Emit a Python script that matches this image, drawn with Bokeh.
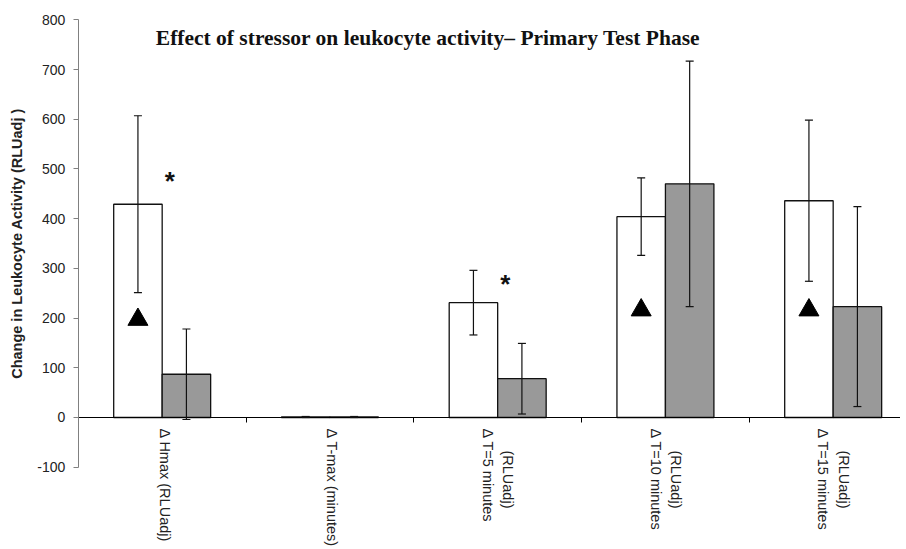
from bokeh.plotting import figure
from bokeh.models import Range1d, LinearAxis, FixedTicker, Whisker, TeeHead, ColumnDataSource, Grid
from bokeh.core.properties import value
from bokeh.embed import file_html
from bokeh.resources import INLINE

# ---------------- data ----------------
title_text = "Effect of stressor on leukocyte activity\u2013 Primary Test Phase"
y_label = "Change in Leukocyte Activity (RLUadj )"
categories = ["\u0394 Hmax (RLUadj)", "\u0394 T-max (minutes)", "\u0394 T=5 minutes\n(RLUadj)",
              "\u0394 T=10 minutes\n(RLUadj)", "\u0394 T=15 minutes\n(RLUadj)"]
white_vals = [429, 1, 231, 404, 436]
white_err = [178, 1, 65, 78, 162]
gray_vals = [87, 1, 78, 470, 223]
gray_err = [91, 1, 71, 247, 201]
triangle_groups = [0, 3, 4]
triangle_y = [197, 216, 216]
star_groups = [0, 2]
star_y = [482, 275]
y_ticks = [-100, 0, 100, 200, 300, 400, 500, 600, 700, 800]
y_tick_labels = ["-100", "0", "100", "200", "300", "400", "500", "600", "700", "800"]

# ---------------- layout constants ----------------
BW = 0.289
FONT = "Liberation Sans"
n = len(categories)
centers = [i + 0.5 for i in range(n)]
W, H = 900, 547
PX_PER_UNIT_Y = 0.4971
PX_PER_UNIT_X = 167.75
X0_PX = 77.8
y_top = y_ticks[-1] + 19.3 / PX_PER_UNIT_Y
y_bot = y_ticks[0] - (H - 466.7) / PX_PER_UNIT_Y
x_start = -X0_PX / PX_PER_UNIT_X
x_end = (W - X0_PX) / PX_PER_UNIT_X

p = figure(width=W, height=H, output_backend="svg", toolbar_location=None,
           x_range=Range1d(x_start, x_end), y_range=Range1d(y_bot, y_top),
           x_axis_location=None, y_axis_location=None, min_border=0)
p.outline_line_color = None
p.background_fill_color = "white"
for g in p.select(type=Grid):
    g.visible = False

# y axis fixed at x=0
ya = LinearAxis(fixed_location=0, bounds=(y_ticks[0], y_ticks[-1]),
                ticker=FixedTicker(ticks=y_ticks),
                major_label_overrides=dict(zip(y_ticks, y_tick_labels)),
                axis_line_color="#808080", major_tick_line_color="#808080",
                major_tick_out=5, major_tick_in=0, minor_tick_line_color=None,
                major_label_text_font=FONT, major_label_text_font_size="14px",
                major_label_text_color="#222222", major_label_standoff=8,
                axis_label=y_label, axis_label_text_font=FONT,
                axis_label_text_font_style="bold", axis_label_text_font_size="14.5px",
                axis_label_text_color="#222222", axis_label_standoff=9)
p.add_layout(ya, "left")

# x axis at y=0 : boundary ticks
boundaries = [float(i) for i in range(1, n)]
tick_axis = LinearAxis(fixed_location=0, bounds=(0, x_end), ticker=FixedTicker(ticks=boundaries),
                       major_tick_out=5, major_tick_in=0, major_tick_line_color="black",
                       minor_tick_line_color=None, axis_line_color="black",
                       major_label_overrides={b: "" for b in boundaries})
p.add_layout(tick_axis, "below")

# category labels (line 1 and line 2 as separate axes so lines are centred)
first_pos, first_txt, second_pos, second_txt = [], [], [], []
for c, lab in zip(centers, categories):
    parts = lab.split("\n")
    if len(parts) == 1:
        first_pos.append(c + 0.015)
        first_txt.append(parts[0])
    else:
        first_pos.append(c - 0.058)
        first_txt.append(parts[0])
        second_pos.append(c + 0.062)
        second_txt.append(parts[1])

def label_axis(pos, txt, standoff):
    ax = LinearAxis(fixed_location=0, ticker=FixedTicker(ticks=pos),
                    major_label_overrides=dict(zip(pos, txt)),
                    major_tick_out=0, major_tick_in=0, major_tick_line_color=None,
                    minor_tick_line_color=None, axis_line_color=None,
                    major_label_orientation="vertical", major_label_standoff=standoff,
                    major_label_text_font=FONT, major_label_text_font_size="14.5px",
                    major_label_text_color="#222222")
    p.add_layout(ax, "below")

label_axis(first_pos, first_txt, 11)
label_axis(second_pos, second_txt, 33)

# bars
src_w = ColumnDataSource(dict(x=[c - BW / 2 for c in centers], top=white_vals,
                              upper=[v + e for v, e in zip(white_vals, white_err)],
                              lower=[v - e for v, e in zip(white_vals, white_err)]))
src_g = ColumnDataSource(dict(x=[c + BW / 2 for c in centers], top=gray_vals,
                              upper=[v + e for v, e in zip(gray_vals, gray_err)],
                              lower=[v - e for v, e in zip(gray_vals, gray_err)]))
p.vbar(x="x", top="top", bottom=0, width=BW, source=src_w, fill_color="white",
       line_color="#111111", line_width=1.3)
p.vbar(x="x", top="top", bottom=0, width=BW, source=src_g, fill_color="#999999",
       line_color="#111111", line_width=1.3)

for src in (src_w, src_g):
    w = Whisker(source=src, base="x", upper="upper", lower="lower", dimension="height",
                line_color="#111111", line_width=1.2, level="annotation",
                upper_head=TeeHead(size=8, line_color="#111111", line_width=1.2),
                lower_head=TeeHead(size=8, line_color="#111111", line_width=1.2))
    p.add_layout(w)

# triangles
p.scatter(x=[centers[g] - BW / 2 for g in triangle_groups], y=triangle_y, marker="triangle",
          size=20, fill_color="black", line_color="black")

# stars
p.text(x=[centers[g] + 0.045 for g in star_groups], y=star_y, text=["*"] * len(star_groups),
       text_font=value(FONT), text_font_style="bold", text_font_size="26px",
       text_align="center", text_baseline="middle", y_offset=3, text_color="#111111")

# title
p.text(x=[2.085], y=[764], text=[title_text], text_font=value("Liberation Serif"),
       text_font_style="bold", text_font_size="21.5px", text_align="center",
       text_baseline="alphabetic", text_color="#111111")

open("out.html", "w").write(file_html(p, INLINE))
